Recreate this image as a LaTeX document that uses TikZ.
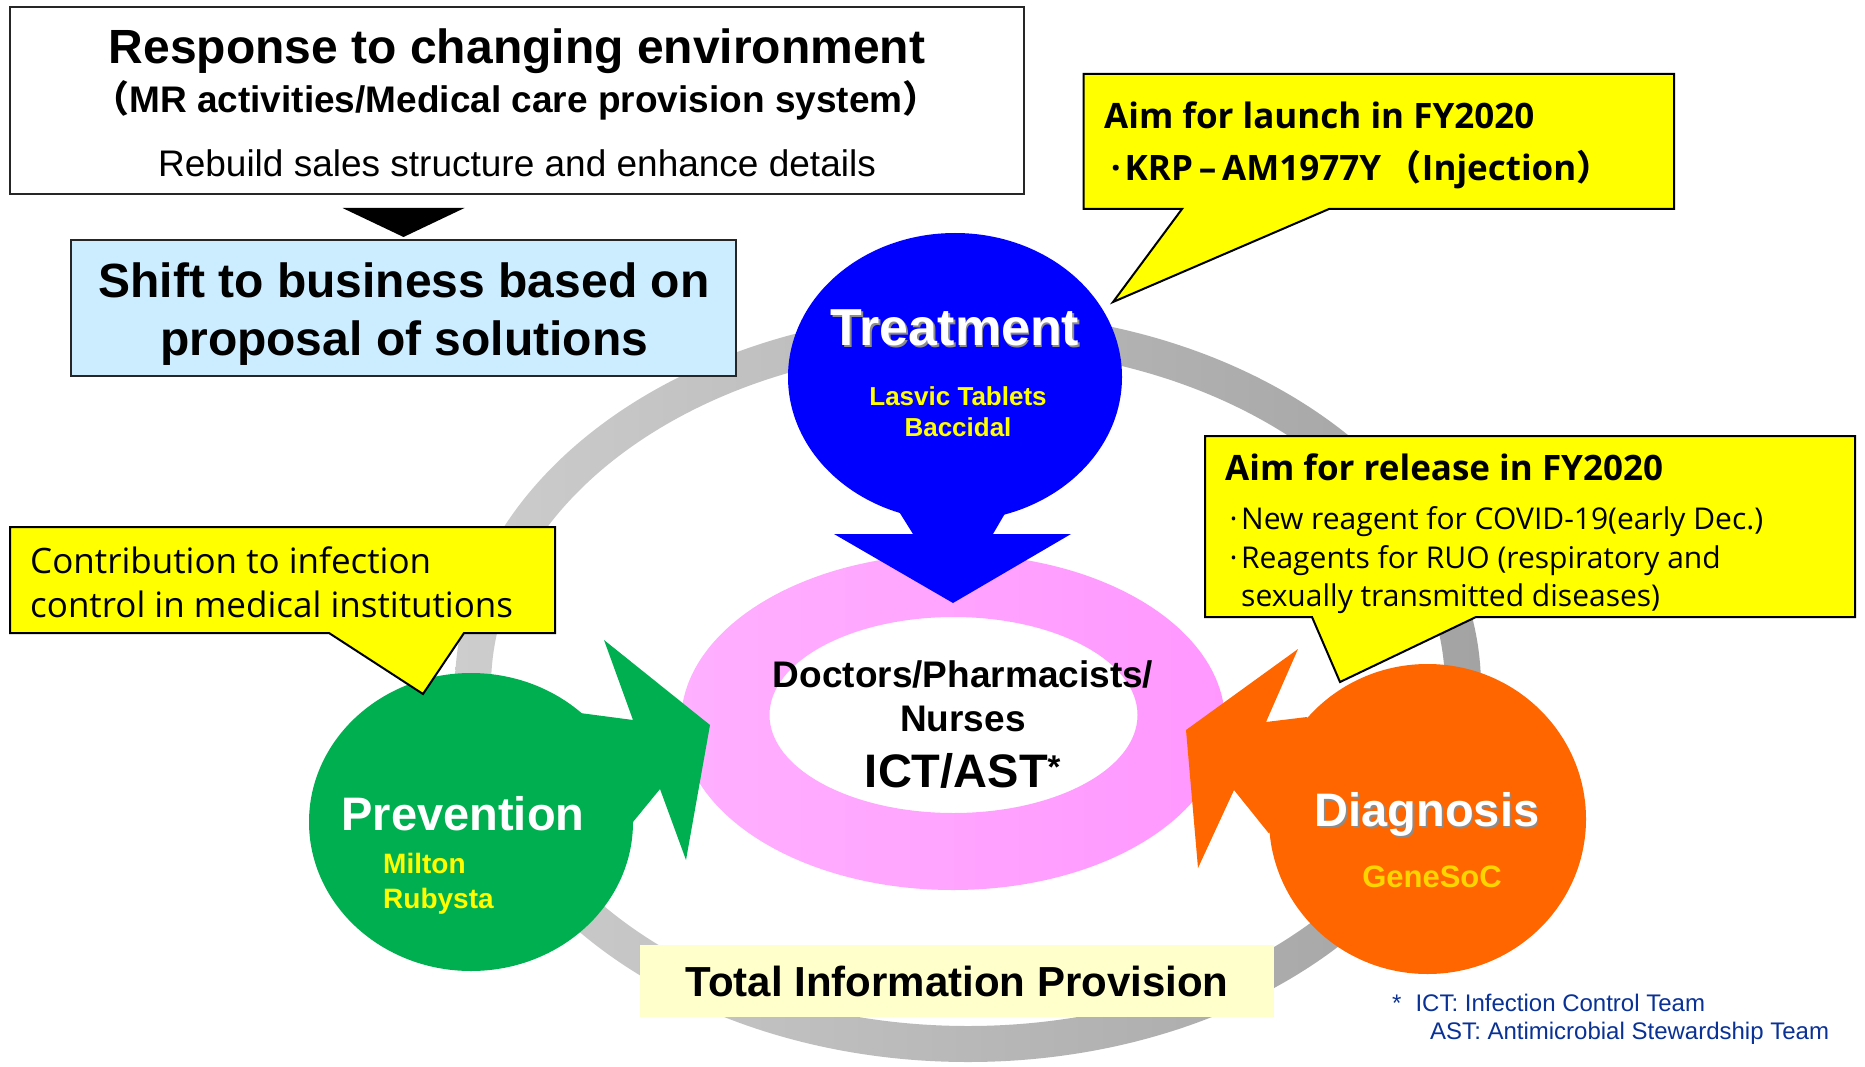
\documentclass[tikz,border=0pt]{standalone}
\usepackage{fontspec}
\setmainfont{Liberation Sans}
\newfontfamily\meiryo{Open Sans}
\newfontfamily\cjk{Noto Sans CJK JP}
\newcommand{\fsize}[2]{\fontsize{#1}{#2}\selectfont}
\newcommand{\ptdot}{\makebox[0.5em][c]{·}}
\definecolor{ringlight}{HTML}{CDCDCD}
\definecolor{ringdark}{HTML}{A3A3A3}
\definecolor{pinklight}{HTML}{FFB0FF}
\definecolor{pinkdark}{HTML}{FF97FF}
\definecolor{treatblue}{HTML}{0000FF}
\definecolor{prevgreen}{HTML}{00B050}
\definecolor{diagorange}{HTML}{FF6600}
\definecolor{shiftblue}{HTML}{CCECFF}
\definecolor{callyellow}{HTML}{FFFF00}
\definecolor{paleyellow}{HTML}{FFFFCC}
\definecolor{prodyellow}{HTML}{FFFF00}
\definecolor{genegold}{HTML}{FFD500}
\definecolor{notenavy}{HTML}{0A3296}
\begin{document}
\begin{tikzpicture}[x=1pt,y=-1pt,
    every node/.style={inner sep=0pt},
    box/.style={draw=black!85,line width=2pt},
    callout/.style={draw=black,line width=2pt,fill=callyellow},
    bigwhite/.style={text=white,font=\bfseries\fsize{47}{56}},
    product/.style={text=prodyellow,font=\bfseries\fsize{28}{35}},
    calltitle/.style={anchor=west,font=\meiryo\bfseries\fsize{35}{42}},
    calltext/.style={anchor=base west,font=\meiryo\fsize{30}{38}}]
        \useasboundingbox (0,0) rectangle (1865,1067);
        \fill[white] (0,0) rectangle (1865,1067);
        % Ring %
        \shade[left color=ringlight,right color=ringdark,even odd rule]
            (968,687) ellipse [x radius=513,y radius=375]
            (968,687) ellipse [x radius=477,y radius=339];
        % Centre %
        \shade[left color=pinklight,right color=pinkdark,even odd rule]
            (953,722) ellipse [x radius=272,y radius=168]
            (953.5,715) ellipse [x radius=184,y radius=98];
        % Treatment %
        \fill[treatblue] (955,377) ellipse [x radius=167,y radius=144];
        \fill[treatblue] (898,510) -- (1007,510) -- (993,534) -- (1071,534) -- (953,603)
            -- (834,534) -- (913,534) -- cycle;
        % Prevention %
        \fill[prevgreen] (471,822) ellipse [x radius=162,y radius=149];
        \fill[prevgreen] (580,713) -- (633,720) -- (604,640) -- (710,725) -- (686,860)
            -- (660,789) -- (633,822) -- (560,800) -- cycle;
        % Diagnosis %
        \fill[diagorange] (1427.5,819) ellipse [x radius=158.5,y radius=155];
        \fill[diagorange] (1307,717) -- (1266,722) -- (1298,649) -- (1186,730) -- (1198,868)
            -- (1234,790) -- (1268.5,833) -- (1350,800) -- cycle;
        % Boxes %
        \node[box,minimum width=1014.5,minimum height=187] (respbox) at (516.75,100.5) {};
        \node[box,fill=shiftblue,minimum width=665,minimum height=136] (shiftbox) at (403.5,308) {};
        \fill ([xshift=-61pt,yshift=31pt]shiftbox.north) -- ([xshift=61pt,yshift=31pt]shiftbox.north)
            -- ([yshift=2pt]shiftbox.north) -- cycle;
        \node[fill=paleyellow,minimum width=634,minimum height=72] (totalbox) at (957,981) {};
        % Callouts %
        \draw[callout] (1083.5,74) -- (1674,74) -- (1674,209) -- (1329,209) -- (1113,302)
            -- (1182,209) -- (1083.5,209) -- cycle;
        \draw[callout] (10,527) -- (555,527) -- (555,633) -- (464,633) -- (423,694)
            -- (329,633) -- (10,633) -- cycle;
        \draw[callout] (1205,436) -- (1855,436) -- (1855,617) -- (1476,617) -- (1340,682)
            -- (1312,617) -- (1205,617) -- cycle;
        % Texts %
        \node[font=\bfseries\fsize{48}{56}] (resp) at (517,51.5) {Response to changing environment};
        \node[font=\bfseries\fsize{37}{42}] (mr) at (516,100)
            {{\cjk （}MR activities/Medical care provision system{\cjk ）}};
        \node[font=\fsize{37}{44}] (rebuild) at (517,163) {Rebuild sales structure and enhance details};
        \node[font=\bfseries\fsize{48}{58},align=center] (shift) at (404,314.5)
            {Shift to business based on\\proposal of solutions};
        \node[bigwhite,text=black!45,font=\bfseries\fsize{52}{60}] (treatshade) at (956.5,329.5) {Treatment};
        \node[bigwhite,font=\bfseries\fsize{52}{60}] (treat) at (955,328) {Treatment};
        \node[product,font=\bfseries\fsize{26}{31},align=center] (treatprod) at (958,412)
            {Lasvic Tablets\\Baccidal};
        \node[font=\bfseries\fsize{37}{44},align=center] (hcp) at (963,696)
            {Doctors/Pharmacists/\\Nurses};
        \node[font=\bfseries\fsize{47}{56}] (ict) at (963,771) {ICT/AST\textsuperscript{*}};
        \node[bigwhite] (prev) at (463,814) {Prevention};
        \node[product,anchor=west,align=left] (prevprod) at (383,883.5) {Milton\\Rubysta};
        \node[bigwhite,text=black!45] (diagshade) at (1428.5,816) {Diagnosis};
        \node[bigwhite] (diag) at (1427,814.5) {Diagnosis};
        \node[text=genegold,font=\bfseries\fsize{31}{37}] (diagprod) at (1432,877) {GeneSoC};
        \node[font=\bfseries\fsize{42}{50}] (total) at (totalbox) {Total Information Provision};
        % Callout texts %
        \node[calltitle] (launch) at (1104,115) {Aim for launch in FY2020};
        \node[calltitle] (krp) at (1107,170) {\ptdot KRP\,–\,AM1977Y\,{\cjk （}Injection{\cjk ）}};
        \node[calltext,font=\meiryo\fsize{35}{44}] (contrib) at (30,573) {Contribution to infection};
        \node[calltext,font=\meiryo\fsize{35}{44}] (contribb) at (30,617) {control in medical institutions};
        \node[calltitle] (release) at (1225,467) {Aim for release in FY2020};
        \node[calltext] (covid) at (1226,529) {\ptdot New reagent for COVID-19(early Dec.)};
        \node[calltext] (ruo) at (1226,568) {\ptdot Reagents for RUO (respiratory and};
        \node[calltext] (ruob) at (1226,606) {\phantom{\ptdot}sexually transmitted diseases)};
        % Footnote %
        \node[anchor=base west,text=notenavy,font=\fsize{24}{28}] (noteict) at (1392,1011)
            {*\hspace{14pt}ICT: Infection Control Team};
        \node[anchor=base west,text=notenavy,font=\fsize{24}{28}] (noteast) at (1430,1039)
            {AST: Antimicrobial Stewardship Team};
\end{tikzpicture}
\end{document}
